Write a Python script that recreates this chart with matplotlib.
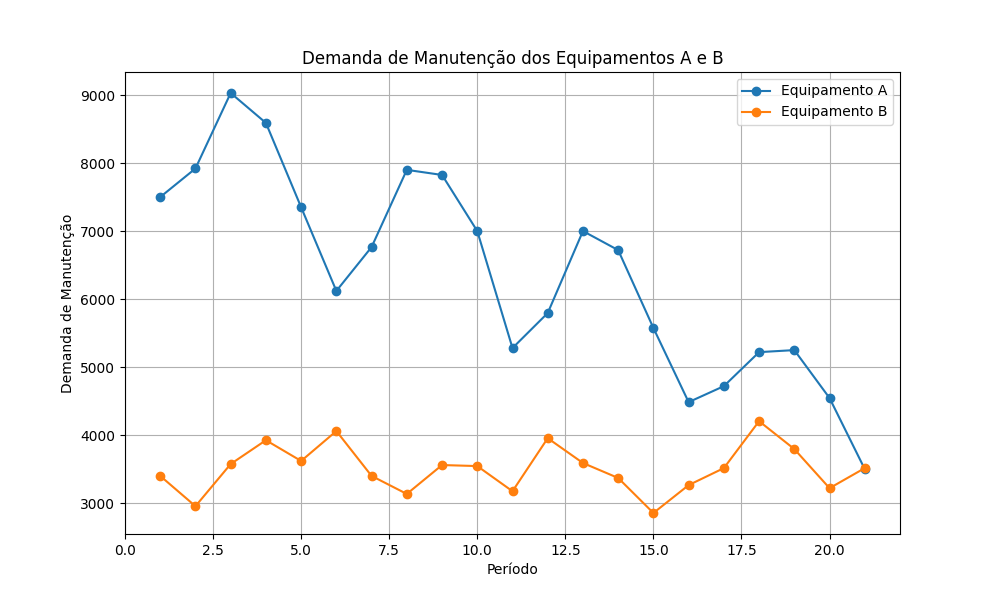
import matplotlib
matplotlib.use("Agg")
import matplotlib.pyplot as plt

periodos = list(range(1, 22))
equip_a = [7500, 7920, 9030, 8590, 7350, 6120, 6765, 7900, 7825, 7000, 5280,
           5795, 7000, 6720, 5575, 4485, 4720, 5220, 5250, 4545, 3500]
equip_b = [3400, 2955, 3575, 3925, 3620, 4060, 3400, 3135, 3560, 3545, 3175,
           3955, 3590, 3370, 2855, 3265, 3515, 4205, 3795, 3220, 3515]

fig, ax = plt.subplots(figsize=(10, 6), dpi=100)
ax.plot(periodos, equip_a, marker='o', label='Equipamento A')
ax.plot(periodos, equip_b, marker='o', label='Equipamento B')
ax.set_title('Demanda de Manutenção dos Equipamentos A e B')
ax.set_xlabel('Período')
ax.set_ylabel('Demanda de Manutenção')
ax.legend()
ax.grid(True)
fig.savefig('out.png')
